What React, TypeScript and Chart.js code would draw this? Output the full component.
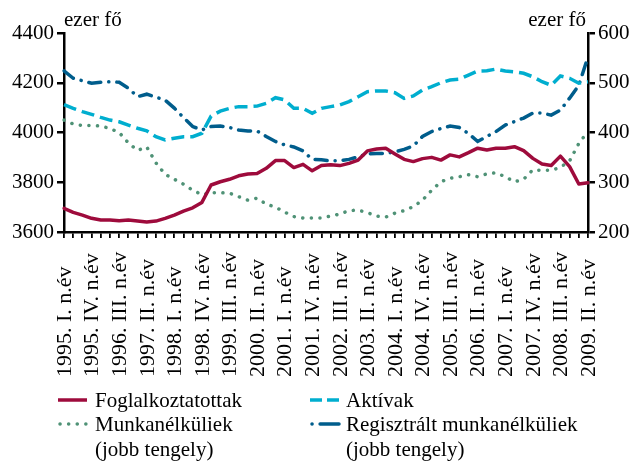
import React, { useEffect, useRef } from 'react';
import { Chart, registerables } from 'chart.js';
Chart.register(...registerables);

const romans = ['I.', 'II.', 'III.', 'IV.'];
const startYear = 1995;
const quarterCount = 58; // 1995 I. – 2009 II.
const categories: string[] = Array.from({ length: quarterCount }, (_, i) =>
  `${startYear + Math.floor(i / 4)}. ${romans[i % 4]} n.év`
);
const labelEvery = 3;

const foglalkoztatottak = [3695,3679,3668,3655,3648,3648,3645,3648,3644,3640,3644,3655,3668,3684,3697,3719,3789,3802,3812,3826,3833,3835,3856,3887,3887,3859,3872,3846,3867,3870,3867,3876,3889,3926,3934,3937,3914,3892,3883,3895,3900,3889,3910,3902,3919,3937,3930,3937,3937,3943,3927,3896,3873,3867,3905,3863,3793,3798];
const aktivak = [4112,4097,4084,4073,4061,4050,4043,4030,4017,4007,3983,3970,3977,3983,3983,3997,4066,4086,4097,4104,4104,4106,4117,4140,4131,4097,4097,4077,4097,4104,4111,4124,4144,4164,4167,4167,4160,4137,4147,4171,4184,4200,4211,4214,4231,4247,4248,4255,4247,4244,4238,4224,4204,4190,4227,4218,4198,4204];
const munkanelkuliek = [425,417,414,414,413,408,400,379,364,371,339,316,306,296,284,275,279,279,278,271,264,268,256,250,240,231,228,228,228,232,236,243,244,239,232,230,238,243,251,264,284,301,308,311,315,311,317,319,311,301,306,325,324,324,330,343,378,402];
const regisztralt = [524,509,504,499,501,502,501,489,472,477,471,465,449,430,412,405,412,413,410,405,403,403,392,382,375,371,363,346,345,343,343,346,351,357,358,358,361,366,373,392,402,408,413,410,398,382,392,402,415,422,429,439,439,435,445,469,495,552];

const leftTicks = { min: 3600, max: 4400, step: 200 };
const rightTicks = { min: 200, max: 600, step: 100 };
const unitLabel = 'ezer fő';

const FONT = '"Liberation Serif", serif';
const C_RED = '#9e0b3c';
const C_LIGHT = '#00aecf';
const C_GREEN = '#4f9276';
const C_DARK = '#005d8c';

const textPlugin = {
  id: 'customText',
  afterDraw(chart: any) {
    const ctx = chart.ctx;
    const xs = chart.scales.x;
    const area = chart.chartArea;
    ctx.save();
    ctx.fillStyle = '#000';
    ctx.font = `22px ${FONT}`;
    ctx.textAlign = 'left';
    ctx.textBaseline = 'middle';
    categories.forEach((lab, i) => {
      if (i % labelEvery !== 0) return;
      const px = xs.getPixelForValue(i);
      ctx.save();
      ctx.translate(px + 1, 377);
      ctx.rotate(-Math.PI / 2);
      ctx.fillText(lab, 0, 0);
      ctx.restore();
    });
    ctx.font = `21px ${FONT}`;
    ctx.textBaseline = 'alphabetic';
    ctx.textAlign = 'left';
    ctx.fillText(unitLabel, area.left, 26);
    ctx.textAlign = 'right';
    ctx.fillText(unitLabel, area.right - 2, 26);
    ctx.restore();
  },
};

export default function App() {
  const ref = useRef<HTMLCanvasElement>(null);
  useEffect(() => {
    const tickFont = { family: FONT, size: 21 };
    const plain = (v: any) => String(v);
    const chart = new Chart(ref.current!, {
      type: 'line',
      data: {
        labels: categories,
        datasets: [
          { label: 'Foglalkoztatottak', data: foglalkoztatottak, yAxisID: 'y', borderColor: C_RED, borderWidth: 3.5, pointRadius: 0, borderJoinStyle: 'round', borderCapStyle: 'round' },
          { label: 'Aktívak', data: aktivak, yAxisID: 'y', borderColor: C_LIGHT, borderWidth: 3.5, pointRadius: 0, borderDash: [13, 6], borderCapStyle: 'butt' },
          { label: 'Munkanélküliek', data: munkanelkuliek, yAxisID: 'y1', borderColor: C_GREEN, borderWidth: 3.5, pointRadius: 0, borderDash: [0.1, 8.5], borderCapStyle: 'round' },
          { label: 'Regisztrált munkanélküliek', data: regisztralt, yAxisID: 'y1', borderColor: C_DARK, borderWidth: 3.5, pointRadius: 0, borderDash: [12, 8, 0.1, 8], borderCapStyle: 'round' },
        ],
      } as any,
      options: {
        animation: false,
        responsive: false,
        layout: { padding: { top: 33, left: 0, right: 0, bottom: 0 } },
        plugins: { legend: { display: false }, tooltip: { enabled: false } },
        scales: {
          x: {
            type: 'category',
            offset: false,
            grid: { display: true, drawOnChartArea: false, drawTicks: true, tickLength: 6, color: '#000', lineWidth: 1.8 },
            border: { display: true, color: '#000', width: 2.5 },
            ticks: { display: false, autoSkip: false },
            afterFit: (s: any) => { s.height = 232; },
          },
          y: {
            position: 'left',
            min: leftTicks.min, max: leftTicks.max,
            ticks: { stepSize: leftTicks.step, color: '#000', font: tickFont, padding: 3, callback: plain },
            grid: { drawOnChartArea: false, tickLength: 7, color: '#000', lineWidth: 2.5 },
            border: { display: true, color: '#000', width: 2.5 },
            afterFit: (s: any) => { s.width = 64; },
          },
          y1: {
            position: 'right',
            min: rightTicks.min, max: rightTicks.max,
            ticks: { stepSize: rightTicks.step, color: '#000', font: tickFont, padding: 3, callback: plain },
            grid: { drawOnChartArea: false, tickLength: 7, color: '#000', lineWidth: 2.5 },
            border: { display: true, color: '#000', width: 2.5 },
            afterFit: (s: any) => { s.width = 47; },
          },
        },
      } as any,
      plugins: [textPlugin],
    });
    return () => chart.destroy();
  }, []);

  const txt = (left: number, cy: number, s: string) => (
    <div style={{ position: 'absolute', left, top: cy - 13, height: 26, lineHeight: '26px', fontSize: 21, fontFamily: FONT, color: '#000', whiteSpace: 'nowrap' }}>{s}</div>
  );

  return (
    <div style={{ position: 'absolute', left: 0, top: 0, width: 635, height: 464, background: '#fff' }}>
      <canvas ref={ref} width={635} height={464} style={{ position: 'absolute', left: 0, top: 0 }} />
      <svg width={635} height={464} style={{ position: 'absolute', left: 0, top: 0 }}>
        <line x1={58} y1={400} x2={87} y2={400} stroke={C_RED} strokeWidth={3.5} />
        <line x1={60} y1={424} x2={88} y2={424} stroke={C_GREEN} strokeWidth={3.5} strokeDasharray="0.1 8.5" strokeLinecap="round" />
        <line x1={310} y1={400} x2={339} y2={400} stroke={C_LIGHT} strokeWidth={3.5} strokeDasharray="12 5" />
        <line x1={312} y1={424} x2={339} y2={424} stroke={C_DARK} strokeWidth={3.5} strokeDasharray="0.1 8 20" strokeLinecap="round" />
      </svg>
      {txt(95, 400, 'Foglalkoztatottak')}
      {txt(95, 424, 'Munkanélküliek')}
      {txt(95, 449, '(jobb tengely)')}
      {txt(346, 400, 'Aktívak')}
      {txt(346, 424, 'Regisztrált munkanélküliek')}
      {txt(346, 449, '(jobb tengely)')}
    </div>
  );
}
